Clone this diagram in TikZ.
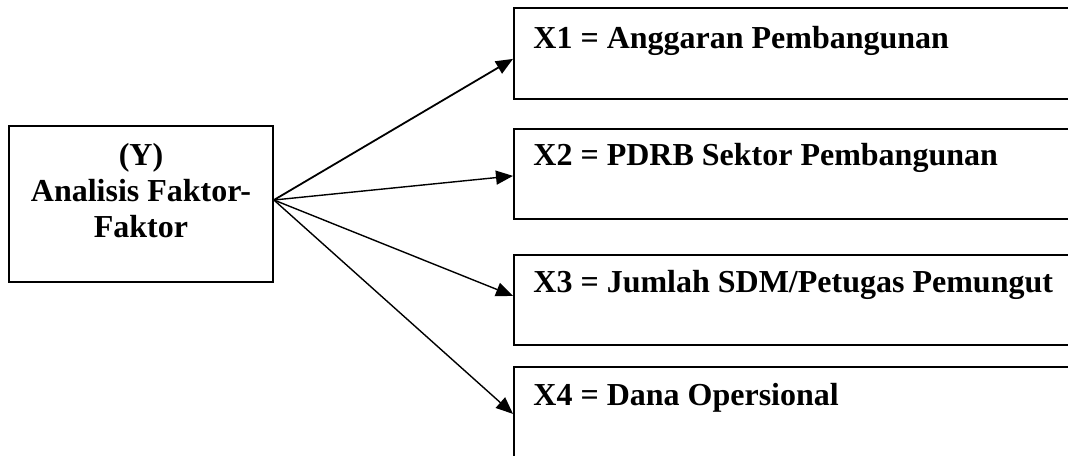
\documentclass[tikz,border=0pt]{standalone}
\usepackage{fontspec}
\setmainfont{Liberation Serif}
\usetikzlibrary{arrows.meta}

\begin{document}
\begin{tikzpicture}[
                    x=0.5pt, y=-0.5pt,
                    box/.style={
                        rectangle,
                        draw,
                        line width=0.9pt,
                        inner sep=0pt
                    },
                    xbox/.style={
                        box,
                        anchor=north west,
                        minimum width=320pt,
                        minimum height=45pt
                    },
                    xtext/.style={
                        anchor=base west,
                        inner sep=0pt,
                        font=\fontsize{16}{18}\selectfont\bfseries
                    },
                    link/.style={
                        -{Triangle[length=8.5pt,width=7pt]},
                        line width=0.7pt
                    }
                ]
                    \useasboundingbox (0,0) rectangle (1068,455);

                    % Y box
                    \node[box, minimum width=132pt, minimum height=78pt] (y) at (141,204) {};
                    \node[align=center, inner sep=0pt, font=\fontsize{16}{18}\selectfont\bfseries] (ytext) at (141,191) {(Y)\\Analisis Faktor-\\Faktor};

                    % X boxes
                    \node[xbox, minimum height=45.5pt] (x1) at (513,7) {};
                    \node[xbox] (x2) at (513,128) {};
                    \node[xbox] (x3) at (513,254) {};
                    \node[xbox, minimum height=48pt] (x4) at (513,366) {};

                    \node[xtext] (x1text) at ([xshift=10pt,yshift=-20.5pt]x1.north west) {X1 = Anggaran Pembangunan};
                    \node[xtext] (x2text) at ([xshift=10pt,yshift=-18.5pt]x2.north west) {X2 = PDRB Sektor Pembangunan};
                    \node[xtext] (x3text) at ([xshift=10pt,yshift=-19pt]x3.north west) {X3 = Jumlah SDM/Petugas Pemungut};
                    \node[xtext] (x4text) at ([xshift=10pt,yshift=-19.5pt]x4.north west) {X4 = Dana Opersional};

                    % Arrows
                    \draw[link, line width=0.9pt] ([yshift=2pt]y.east) -- ([yshift=-2.75pt]x1.west);
                    \draw[link] ([yshift=2pt]y.east) -- ([yshift=-1pt]x2.west);
                    \draw[link] ([yshift=2pt]y.east) -- ([yshift=2pt]x3.west);
                    \draw[link] ([yshift=2pt]y.east) -- ([yshift=0.5pt]x4.west);
                \end{tikzpicture}
\end{document}
